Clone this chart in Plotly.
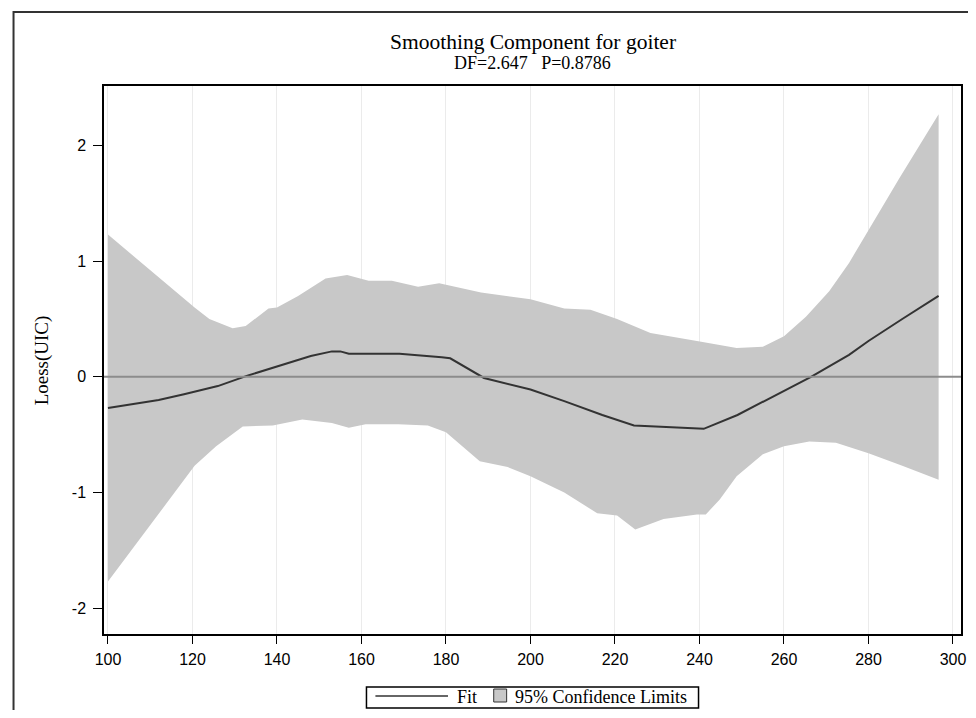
import plotly.graph_objects as go

# ---- data ----
fit_x = [100, 112, 118, 126, 133, 140, 148, 153, 155, 157, 169, 179, 181, 189, 200, 208, 217, 224.5, 231.5, 241, 249, 260, 266.4, 275.4, 280, 288, 296.6]
fit_y = [-0.27, -0.20, -0.15, -0.08, 0.01, 0.09, 0.18, 0.22, 0.22, 0.20, 0.20, 0.17, 0.16, -0.01, -0.11, -0.21, -0.33, -0.42, -0.43, -0.45, -0.33, -0.12, 0.0, 0.19, 0.31, 0.50, 0.70]

upper_x = [100, 110, 120.5, 124, 129.5, 132.6, 138, 140, 145, 151.5, 156.6, 161.7, 167.2, 173.4, 178.4, 188.3, 200, 208, 214.2, 220.5, 228.4, 239.4, 248.8, 255, 260, 265.2, 270.7, 275.4, 280, 287.2, 296.6]
upper_y = [1.23, 0.92, 0.60, 0.50, 0.42, 0.44, 0.59, 0.60, 0.70, 0.85, 0.88, 0.83, 0.83, 0.78, 0.81, 0.73, 0.67, 0.59, 0.58, 0.50, 0.38, 0.31, 0.25, 0.26, 0.35, 0.52, 0.74, 0.985, 1.27, 1.71, 2.27]

lower_x = [100, 120.5, 125.6, 131.9, 139, 146, 153, 157, 161, 168.7, 175.7, 180, 188, 194.6, 200, 208, 215.8, 220.5, 224.8, 231.5, 239.4, 241.5, 244.8, 248.8, 255, 260, 266, 272.3, 280, 288, 296.6]
lower_y = [-1.77, -0.77, -0.60, -0.43, -0.42, -0.37, -0.40, -0.44, -0.41, -0.41, -0.42, -0.48, -0.73, -0.78, -0.86, -1.00, -1.18, -1.20, -1.32, -1.23, -1.19, -1.19, -1.06, -0.86, -0.67, -0.60, -0.56, -0.57, -0.66, -0.77, -0.89]

x_ticks = [100, 120, 140, 160, 180, 200, 220, 240, 260, 280, 300]
y_ticks = [-2, -1, 0, 1, 2]
y_tick_labels = ["-2", "-1", "0", "1", "2"]

title_text = "Smoothing Component for goiter"
subtitle_text = "DF=2.647&nbsp;&nbsp;&nbsp;P=0.8786"
y_title = "Loess(UIC)"
legend_fit = "Fit"
legend_band = "95% Confidence Limits"

SERIF = "Liberation Serif, Times New Roman, serif"
SANS = "Liberation Sans, Arial, sans-serif"

BAND = "#c8c8c8"
FIT = "#333333"

# page has an 8px body margin; figure is sized to fit inside the window
W, H = 968, 702
ML, MR, MT, MB = 96, 10, 78, 76
PW, PH = W - ML - MR, H - MT - MB


def px(page_x):
    return (page_x - 8 - ML) / PW


def py(page_y):
    return (H - MB - (page_y - 8)) / PH


fig = go.Figure()

band_x = upper_x + lower_x[::-1]
band_y = upper_y + lower_y[::-1]
fig.add_trace(go.Scatter(
    x=band_x, y=band_y, fill="toself", mode="lines",
    line=dict(width=0, color=BAND), fillcolor=BAND,
    name=legend_band, showlegend=False, hoverinfo="skip"))

fig.add_trace(go.Scatter(
    x=fit_x, y=fit_y, mode="lines",
    line=dict(color=FIT, width=2), name=legend_fit, showlegend=False))

fig.update_layout(
    width=W, height=H,
    margin=dict(l=ML, r=MR, t=MT, b=MB),
    paper_bgcolor="white", plot_bgcolor="white",
    showlegend=False,
    font=dict(family=SERIF, color="black"),
)

fig.update_xaxes(range=[99.06, 301.9], tickvals=x_ticks, ticks="outside", ticklen=8,
                 tickcolor="black", showline=True, mirror=True, linecolor="black",
                 linewidth=1.5, showgrid=True, gridcolor="#ebebeb", gridwidth=1,
                 zeroline=False, ticklabelstandoff=2, ticklabeloverflow="allow",
                 tickfont=dict(family=SANS, size=16, color="black"))
fig.update_yaxes(range=[-2.224, 2.515], tickvals=y_ticks, ticktext=y_tick_labels,
                 ticks="outside", ticklen=9, tickcolor="black", showline=True, mirror=True,
                 linecolor="black", linewidth=1.5, showgrid=False, zeroline=False,
                 ticklabelstandoff=4,
                 tickfont=dict(family=SANS, size=16, color="black"))

fig.add_hline(y=0, line=dict(color="#8c8c8c", width=2), layer="above")

fig.add_annotation(text=title_text, xref="paper", yref="paper", x=0.5, y=py(42),
                   showarrow=False, font=dict(family=SERIF, size=21.5, color="black"),
                   xanchor="center", yanchor="middle")
fig.add_annotation(text=subtitle_text, xref="paper", yref="paper", x=0.5, y=py(63),
                   showarrow=False, font=dict(family=SERIF, size=18, color="black"),
                   xanchor="center", yanchor="middle")
fig.add_annotation(text=y_title, xref="paper", yref="paper", x=px(42), y=0.5,
                   showarrow=False, textangle=-90,
                   font=dict(family=SERIF, size=19, color="black"),
                   xanchor="center", yanchor="middle")

# legend (drawn by hand to match the SAS legend box)
fig.add_shape(type="rect", xref="paper", yref="paper",
              x0=px(368), x1=px(702), y0=py(708), y1=py(687),
              line=dict(color="black", width=1.5), fillcolor="white", layer="above")
fig.add_shape(type="line", xref="paper", yref="paper",
              x0=px(377), x1=px(450), y0=py(696), y1=py(696),
              line=dict(color=FIT, width=1.5), layer="above")
fig.add_shape(type="rect", xref="paper", yref="paper",
              x0=px(496), x1=px(509), y0=py(702), y1=py(689),
              line=dict(color="#333333", width=1), fillcolor=BAND, layer="above")
fig.add_annotation(text=legend_fit, xref="paper", yref="paper", x=px(457), y=py(697),
                   showarrow=False, xanchor="left", yanchor="middle",
                   font=dict(family=SERIF, size=18, color="black"))
fig.add_annotation(text=legend_band, xref="paper", yref="paper", x=px(515), y=py(697),
                   showarrow=False, xanchor="left", yanchor="middle",
                   font=dict(family=SERIF, size=18, color="black"))

# outer border (left and top visible; right/bottom fall outside the page)
fig.add_shape(type="rect", xref="paper", yref="paper",
              x0=px(13), x1=px(990), y0=py(740), y1=py(12),
              line=dict(color="#333333", width=2), fillcolor="rgba(0,0,0,0)", layer="above")

fig.write_html("out.html")
